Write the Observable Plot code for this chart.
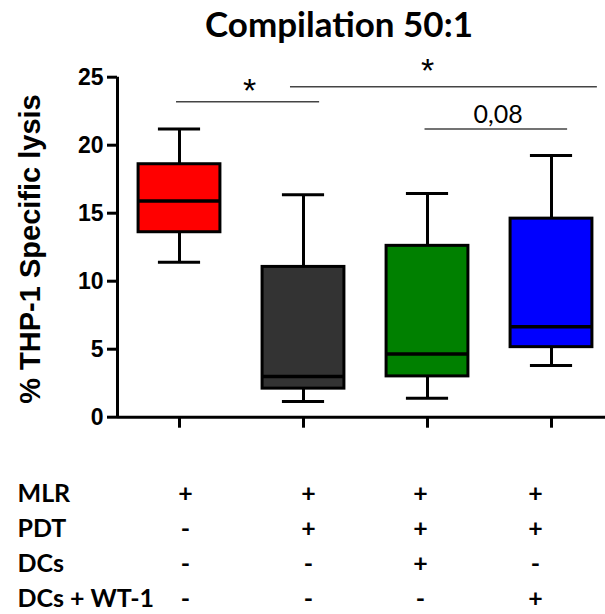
<!DOCTYPE html>
<html>
<head>
<meta charset="utf-8">
<script src="https://cdn.jsdelivr.net/npm/d3@7"></script>
<script src="https://cdn.jsdelivr.net/npm/@observablehq/plot@0.6"></script>
<style>
  html, body { margin: 0; padding: 0; background: #fff; }
  #wrap { position: relative; width: 605px; height: 614px; overflow: hidden; background: #fff; }
  #title { position: absolute; left: 73px; width: 532px; top: 3px; text-align: center;
           font-family: Lato, "Open Sans", sans-serif; font-weight: 700; font-size: 35px; line-height: 40px; color: #000; }
  #chart { position: absolute; left: 0; top: 0; }
  #table { position: absolute; left: 0; top: 440px; }
</style>
</head>
<body>
<div id="wrap">
  <div id="chart"></div>
  <div id="title">Compilation 50:1</div>
  <div id="table"></div>
</div>
<script>
// ---- data ----
const groups = ["MLR", "MLR + PDT", "MLR + PDT + DCs", "MLR + PDT + DCs + WT-1"];
const groupIndex = [1, 2, 3, 4];
const whiskerLow = [11.4, 1.15, 1.4, 3.8];
const q1 = [13.6, 2.1, 3.0, 5.15];
const median = [15.9, 3.0, 4.65, 6.65];
const q3 = [18.6, 11.05, 12.6, 14.6];
const whiskerHigh = [21.2, 16.35, 16.45, 19.25];
const fills = ["#ff0000", "#333333", "#008000", "#0000ff"];
const yTicks = [0, 5, 10, 15, 20, 25];

// significance brackets (x in group units, y in % units)
const bracketFrom = [0.976, 1.895, 2.98];
const bracketTo = [2.13, 4.37, 4.13];
const bracketY = [23.2, 24.3, 21.2];
const bracketLabel = ["*", "*", "0,08"];
const bracketLabelX = [1.565, 3.0, 3.57];
const bracketLabelY = [24.6, 26.0, 22.2];

// condition table
const rowLabels = ["MLR", "PDT", "DCs", "DCs + WT-1"];
const signMLR = ["+", "+", "+", "+"];
const signPDT = ["-", "+", "+", "+"];
const signDCs = ["-", "-", "+", "-"];
const signWT1 = ["-", "-", "-", "+"];

// ---- build tables ----
const boxes = groupIndex.map((i, k) => ({
  i, group: groups[k], lo: whiskerLow[k], q1: q1[k], med: median[k], q3: q3[k], hi: whiskerHigh[k], fill: fills[k]
}));
const brackets = bracketFrom.map((x1, k) => ({
  x1, x2: bracketTo[k], y: bracketY[k], label: bracketLabel[k], lx: bracketLabelX[k], ly: bracketLabelY[k]
}));
const stars = brackets.filter(d => d.label === "*");
const pvals = brackets.filter(d => d.label !== "*");
const signRows = [signMLR, signPDT, signDCs, signWT1];
const cells = [];
signRows.forEach((row, r) => row.forEach((s, c) => cells.push({row: rowLabels[r], col: groupIndex[c], sign: s})));

const boxHalf = 0.33, capHalf = 0.17;
const calibri = "Lato, 'Open Sans', sans-serif";
const arial = "'Liberation Sans', Arial, sans-serif";

const chart = Plot.plot({
  width: 605,
  height: 440,
  marginLeft: 117,
  marginRight: 0,
  marginTop: 76.7,
  marginBottom: 23.3,
  style: {background: "transparent", overflow: "visible"},
  x: {domain: [0.5, 4.5], range: [117, 613], axis: null},
  y: {domain: [0, 25], axis: null},
  marks: [
    // significance brackets
    Plot.ruleY(brackets, {x1: "x1", x2: "x2", y: "y", stroke: "#444", strokeWidth: 1.5}),
    Plot.text(stars, {x: "lx", y: "ly", text: "label", dy: 8, fontFamily: arial, fontSize: 34, fill: "#000"}),
    Plot.text(pvals, {x: "lx", y: "ly", text: "label", fontFamily: calibri, fontSize: 25, fill: "#000"}),
    // whiskers
    Plot.ruleX(boxes, {x: "i", y1: "lo", y2: "q1", stroke: "#000", strokeWidth: 3}),
    Plot.ruleX(boxes, {x: "i", y1: "q3", y2: "hi", stroke: "#000", strokeWidth: 3}),
    Plot.ruleY(boxes, {x1: d => d.i - capHalf, x2: d => d.i + capHalf, y: "lo", stroke: "#000", strokeWidth: 3}),
    Plot.ruleY(boxes, {x1: d => d.i - capHalf, x2: d => d.i + capHalf, y: "hi", stroke: "#000", strokeWidth: 3}),
    // boxes
    Plot.rect(boxes, {x1: d => d.i - boxHalf, x2: d => d.i + boxHalf, y1: "q1", y2: "q3", fill: "fill", stroke: "#000", strokeWidth: 3}),
    Plot.ruleY(boxes, {x1: d => d.i - boxHalf, x2: d => d.i + boxHalf, y: "med", stroke: "#000", strokeWidth: 3.5}),
    // axes
    Plot.axisY({ticks: yTicks, tickSize: 10, tickPadding: 4, strokeWidth: 3, fontSize: 23, fontWeight: "bold", fontFamily: arial, fill: "#000", label: null}),
    Plot.axisX({ticks: groupIndex, tickSize: 11, strokeWidth: 3, tickFormat: () => "", label: null}),
    Plot.ruleX([0.5], {y1: 0, y2: 25, stroke: "#000", strokeWidth: 3}),
    Plot.ruleY([0], {stroke: "#000", strokeWidth: 3}),
    Plot.text(["% THP-1 Specific lysis"], {frameAnchor: "left", textAnchor: "middle", lineAnchor: "middle", rotate: -90, dx: -87, dy: 1.8, fontFamily: arial, fontWeight: "bold", fontSize: 29, fill: "#000"})
  ]
});
document.getElementById("chart").appendChild(chart);

const table = Plot.plot({
  width: 605,
  height: 174,
  marginLeft: 0, marginRight: 0, marginTop: 0, marginBottom: 0,
  x: {type: "linear", domain: groupIndex, range: [185, 308, 420, 535], axis: null},
  y: {type: "point", domain: rowLabels, range: [53, 158], padding: 0, axis: null},
  marks: [
    Plot.text(rowLabels, {y: d => d, frameAnchor: "left", textAnchor: "start", dx: 17, fontFamily: calibri, fontWeight: "bold", fontSize: 25, fill: "#000"}),
    Plot.text(cells, {x: "col", y: "row", text: "sign", fontFamily: calibri, fontWeight: "bold", fontSize: 25, fill: "#000"})
  ]
});
document.getElementById("table").appendChild(table);
</script>
</body>
</html>
